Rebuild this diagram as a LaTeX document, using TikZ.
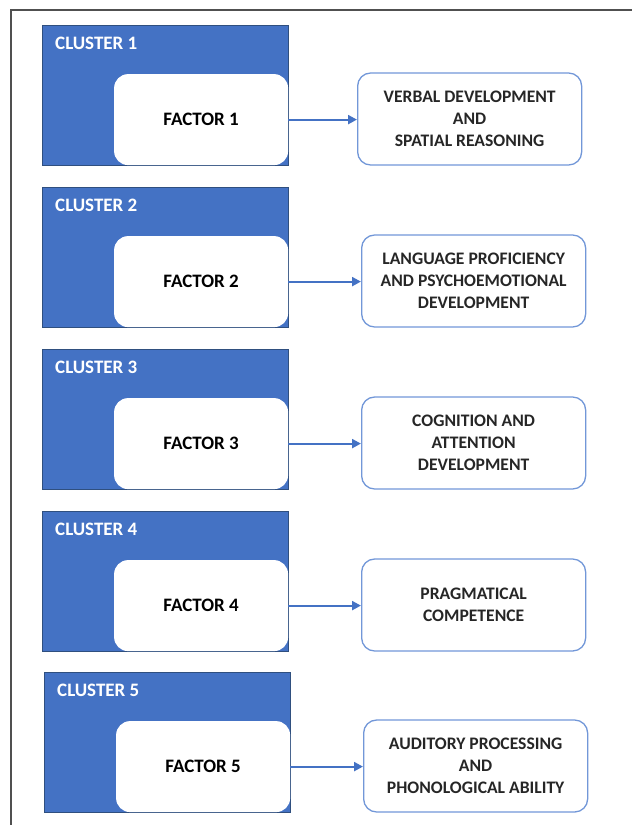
\documentclass[tikz,border=0pt]{standalone}
\usepackage{fontspec}
\setmainfont{Carlito}
\usetikzlibrary{arrows.meta}
\definecolor{clblue}{HTML}{4472C4}
\definecolor{cledge}{HTML}{2F4F7F}
\definecolor{reedge}{HTML}{7297D8}
\definecolor{framegray}{HTML}{505050}
\begin{document}
\begin{tikzpicture}[x=1pt,y=-1pt,
  every node/.style={font=\fontsize{19}{23}\selectfont\bfseries},
  clbox/.style={draw=cledge,line width=0.8pt,fill=clblue,minimum width=246pt,minimum height=140pt,anchor=north west},
  facbox/.style={fill=white,rounded corners=14pt,minimum width=174pt,minimum height=91pt,anchor=south east},
  resbox/.style={draw=reedge,line width=1.3pt,rounded corners=13pt,minimum width=224pt,minimum height=92pt,align=center,anchor=west,text=black!85,
    font=\fontsize{17.6}{22}\selectfont\bfseries},
  conn/.style={draw=clblue,line width=2.2pt,-{Triangle[length=9pt,width=9pt]}}]
\useasboundingbox (0,0) rectangle (632,825);
\draw[framegray,line width=1.6pt] (11,825) -- (11,10) -- (632,10);
\foreach \n/\top/\cx/\rx/\txt in {1/25/42/357/{VERBAL DEVELOPMENT\\AND\\SPATIAL REASONING},
    2/187/42/361/{LANGUAGE PROFICIENCY\\AND PSYCHOEMOTIONAL\\DEVELOPMENT},
    3/349/42/361/{COGNITION AND\\ATTENTION\\DEVELOPMENT},
    4/511/42/361/{PRAGMATICAL\\COMPETENCE},
    5/672/44/363/{AUDITORY PROCESSING\\AND\\PHONOLOGICAL ABILITY}} {
  \node[clbox] (cl\n) at (\cx,\top) {};
  \node[anchor=west,inner sep=0pt,text=white] (cn\n) at ([xshift=13pt,yshift=-18pt]cl\n.north west) {CLUSTER \n};
  \node[facbox] (fa\n) at ([xshift=-0.5pt,yshift=0.5pt]cl\n.south east) {FACTOR \n};
  \node[resbox] (re\n) at (\rx,\top+94) {\txt};
  \draw[conn] (fa\n.east) -- (fa\n.east -| re\n.west);
}
\end{tikzpicture}
\end{document}
